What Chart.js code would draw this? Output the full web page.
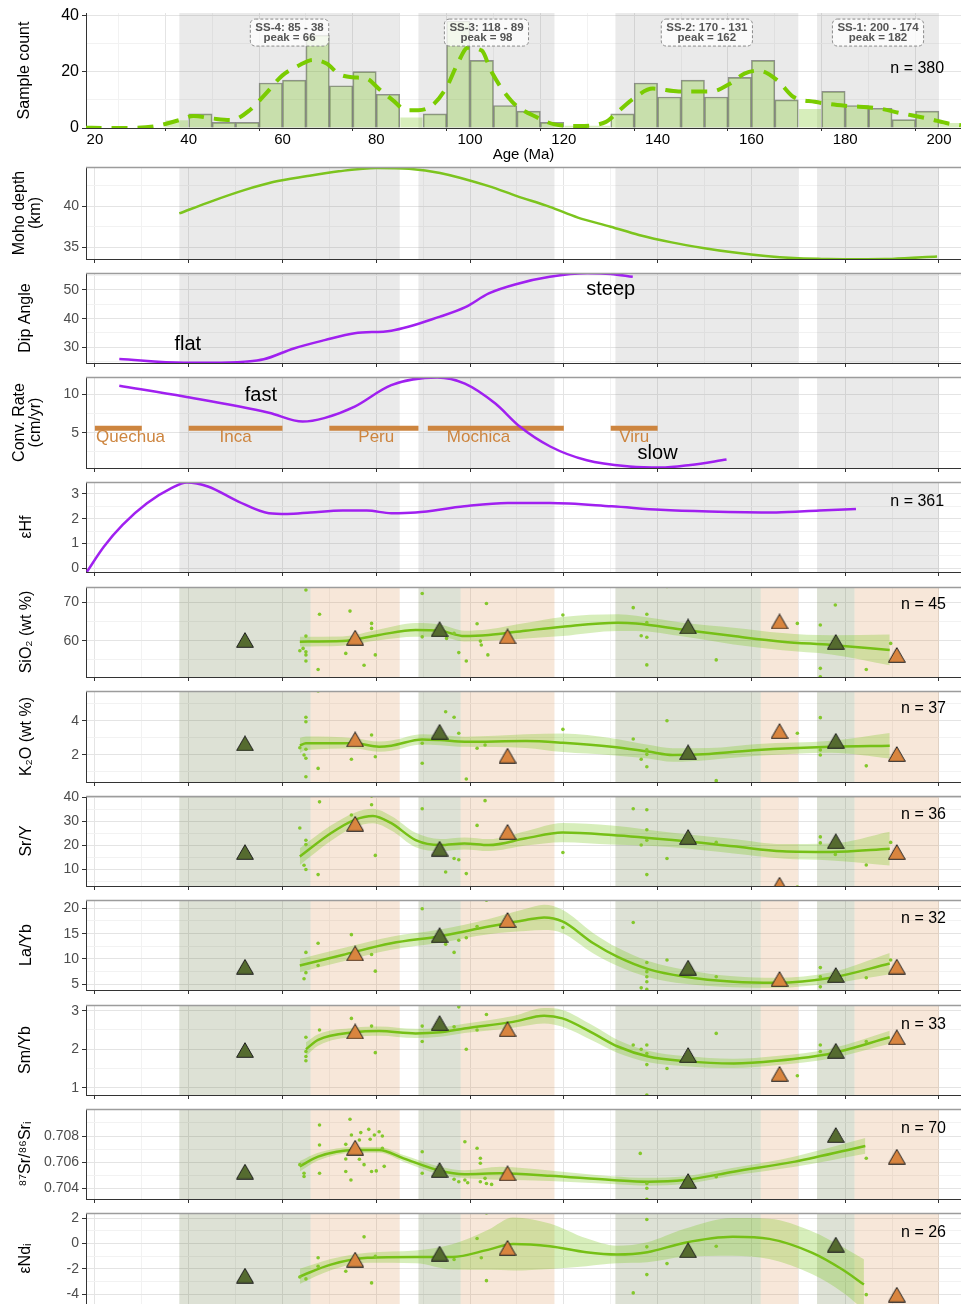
<!DOCTYPE html>
<html>
<head>
<meta charset="utf-8">
<title>Arc magmatism vs age</title>
<script src="https://cdn.jsdelivr.net/npm/chart.js@4.4.0/dist/chart.umd.min.js"></script>
<style>
  html, body { margin: 0; padding: 0; background: #fff; overflow: hidden; }
  #wrap { position: relative; width: 961px; height: 1304px; }
  #wrap canvas { position: absolute; left: 0; }
</style>
</head>
<body>
<div id="wrap"></div>
<script>
// ---------- data (ages in Ma) ----------
const xMajor = [20, 40, 60, 80, 100, 120, 140, 160, 180, 200];
const xMinor = [30, 50, 70, 90, 110, 130, 150, 170, 190];

// zircon age histogram, 5 Ma bins
const binStart = [35,40,45,50,55,60,65,70,75,80,85,90,95,100,105,110,115,120,125,130,135,140,145,150,155,160,165,170,175,180,185,190,195,200];
const binCount = [3,5,2,2,16,17,33,15,20,12,4,5,38,24,8,6,2,1,1,5,16,11,17,11,18,24,10,7,13,8,7,3,6,2];
const densAge = [18,22,27,33,38,41,45,49,53,56.5,60,63.5,66.5,69.5,72,75,78,80.5,83.5,86.5,89,92,95,97.5,99.5,102.5,104.5,109,114.5,118,123,129,131.5,134.5,139,144.5,151.5,155.5,158.5,161.5,165.5,169,173.5,180,187,191.5,198,202,204.7];
const densVal = [0.1,0,0,0.7,2.8,4.3,3.4,2.8,6.3,12.3,18.7,22.2,24.2,22.8,19.2,18,17.5,14,9.9,6.3,6.3,8.1,14.5,23.4,28.5,27.5,20.2,9.3,3.6,1.3,0.7,2.2,5.7,10,14,13,13,15.8,19.3,20.4,17,11,9.3,7.9,7,5.4,3.2,1.6,1];

// magmatic flare-ups (SS-4 ... SS-1) and peaks
const ssBands = [[38, 85], [89, 118], [131, 170], [174, 200]];
const ssText = [['SS-4: 85 - 38', 'peak = 66'], ['SS-3: 118 - 89', 'peak = 98'], ['SS-2: 170 - 131', 'peak = 162'], ['SS-1: 200 - 174', 'peak = 182']];
const preBands = [[38, 66], [89, 98], [131, 162], [174, 182]];   // before peak
const postBands = [[66, 85], [98, 118], [162, 170], [182, 200]]; // after peak
const darkAges = [52, 93.5, 146.5, 178];
const orangeAges = [75.5, 108, 166, 191];

// Moho depth
const mohoAge = [38, 45, 52, 58, 65, 72, 80, 87, 93.6, 104, 110, 117, 123, 130, 136, 143, 150, 156, 163, 169, 175, 182, 190, 199.6];
const mohoVal = [39.1, 40.6, 41.95, 42.9, 43.6, 44.2, 44.6, 44.5, 44.0, 42.4, 41.2, 39.9, 38.6, 37.5, 36.5, 35.6, 34.9, 34.4, 33.95, 33.7, 33.6, 33.55, 33.6, 33.9];

// slab dip angle
const dipAge = [25.2, 39, 45, 52, 56, 62.4, 69, 75.4, 83.2, 93.6, 99, 104, 110, 117, 125, 130, 134.7];
const dipVal = [25.9, 24.6, 24.6, 25.0, 25.8, 29.6, 32.5, 34.9, 35.8, 40.7, 44.0, 48.8, 52.1, 54.6, 55.8, 55.6, 54.6];

// convergence rate
const convAge = [25.2, 39, 57.1, 64.3, 68.9, 75.4, 83.2, 93, 98.9, 105.4, 110.6, 117.1, 124.9, 134, 140.6, 147, 154.7];
const convVal = [11.1, 9.7, 7.6, 6.45, 6.9, 8.4, 11.2, 12.2, 11.4, 8.8, 5.8, 3.2, 1.4, 0.6, 0.45, 0.8, 1.5];
const phaseName = ['Quechua', 'Inca', 'Peru', 'Mochica', 'Viru'];
const phaseStart = [20, 40, 70, 91, 130];
const phaseEnd = [30, 60, 89, 120, 140];
const phaseLabelAge = [27.6, 50, 80, 101.8, 135];
const phaseLevel = 5.57;

// zircon eHf
const hfAge = [18.3, 21.9, 25.9, 31.1, 36.3, 39.6, 44.1, 50.6, 57.1, 61, 66, 72.8, 78, 83.2, 88.4, 98.8, 108, 117, 130.2, 140.6, 151, 165.3, 174.5, 182.3];
const hfVal = [-0.14, 0.87, 1.75, 2.62, 3.23, 3.46, 3.3, 2.69, 2.22, 2.19, 2.25, 2.33, 2.33, 2.22, 2.25, 2.5, 2.63, 2.63, 2.5, 2.36, 2.29, 2.25, 2.33, 2.39];

// SiO2
const siAge = [63.7, 72.8, 80.6, 88.4, 93.6, 98.8, 104, 111.8, 119.7, 131.5, 135.4, 145.8, 156.2, 166.6, 177, 189.5];
const siFit = [59.75, 59.9, 61.5, 62.8, 62.6, 61.2, 61.5, 62.6, 63.65, 64.7, 64.5, 62.8, 61.2, 59.75, 58.9, 57.6];
const siLo = [58.5, 58.7, 60.1, 61.0, 61.0, 59.8, 60.0, 60.6, 61.2, 62.5, 62.5, 61.0, 59.0, 57.5, 56.4, 53.6];
const siHi = [61.0, 61.1, 62.9, 64.6, 64.2, 62.6, 63.0, 64.6, 66.2, 66.9, 66.5, 64.6, 63.4, 62.0, 61.4, 61.6];
const siPts = [[65,73.2],[65,61.2],[64.4,58.0],[63.7,57.4],[65,57.1],[65,56.3],[65,54.7],[67.6,52.5],[67.9,66.9],[73.5,56.7],[74.4,67.7],[77.4,53.6],[79,64.5],[79,63.2],[79.8,56.3],[89.8,72.3],[89.8,61.0],[95,60.6],[96.6,61.9],[97.6,56.9],[99.2,54.7],[101.5,64.4],[102.2,59.9],[102.4,58.9],[103.5,69.7],[103.8,56.3],[119.8,66.7],[134.8,68.6],[136.5,61.3],[137.7,66.9],[137.7,64.7],[137.7,60.9],[137.7,53.7],[142,74.1],[152.5,55],[169.8,64.5],[174.7,64.1],[174.7,52.8],[174.7,50.6],[177.9,69.3],[184.5,52.5],[189.7,59.3]];
const siDark = [60.2, 63.0, 63.7, 59.7];
const siOrange = [60.8, 61.1, 65.0, 56.3];

// K2O
const kAge = [63.7, 65, 75.4, 80.6, 83.2, 89.8, 93.6, 98.9, 111.9, 119.8, 130.2, 138, 143.2, 151, 161.4, 177, 189.5];
const kFit = [2.53, 2.67, 2.67, 2.47, 2.53, 2.9, 2.86, 2.76, 2.8, 2.7, 2.47, 2.18, 1.98, 2.04, 2.28, 2.47, 2.53];
const kLo = [2.08, 2.27, 2.37, 2.17, 2.23, 2.6, 2.56, 2.46, 2.4, 2.15, 1.97, 1.78, 1.58, 1.69, 1.93, 2.12, 1.78];
const kHi = [2.98, 3.07, 2.97, 2.77, 2.83, 3.2, 3.16, 3.06, 3.2, 3.25, 2.97, 2.58, 2.38, 2.39, 2.63, 2.82, 3.28];
const kPts = [[67.6,5.76],[65,4.2],[65,3.94],[63.7,2.41],[65,2.32],[64.6,1.98],[65,1.79],[65,0.7],[67.6,1.19],[74.7,1.73],[79,3.16],[79.8,1.88],[89.8,1.49],[89.8,2.67],[94.8,4.53],[96.6,4.2],[97.6,3.26],[99.2,0.57],[101.5,2.38],[103.2,2.57],[119.8,3.49],[134.8,2.92],[136.5,1.73],[137.7,2.28],[137.7,2.02],[137.7,1.29],[142,4.0],[152.5,0.47],[169.8,3.26],[174.7,4.18],[174.7,2.28],[174.7,1.98],[184.5,1.34]];
const kDark = [2.67, 3.35, 2.14, 2.82];
const kOrange = [2.9, 1.94, 3.39, 2.04];

// Sr/Y
const srYAge = [63.7, 70.3, 75.4, 79.3, 83.2, 88.4, 93.6, 98.8, 104, 111.9, 119.7, 130.2, 143.2, 156.2, 166.6, 177, 189.5];
const srYFit = [15.3, 25, 30.6, 32.2, 29.2, 22.2, 20.1, 20.8, 20.1, 22.9, 25.3, 24.3, 22.2, 19.6, 17.5, 17.2, 18.6];
const srYLo = [11.8, 21.8, 27.6, 29.2, 26.2, 19.2, 17.6, 18.3, 17.6, 19.9, 21.3, 20.3, 19.2, 16.6, 14.5, 13.7, 11.6];
const srYHi = [18.8, 28.2, 33.6, 35.2, 32.2, 25.2, 22.6, 23.3, 22.6, 25.9, 29.3, 28.3, 25.2, 22.6, 20.5, 20.7, 25.6];
const srYPts = [[63.7,27.2],[65,22.1],[65,20.3],[64.6,11.7],[65,9.9],[67.6,7.8],[67.9,38.1],[74.7,32.6],[79,40.5],[79,36.9],[79.8,15.8],[89.8,35.2],[94.8,8.9],[96.6,14.5],[97.6,14.0],[99.2,8.2],[101.5,28.3],[103.2,38.6],[119.8,17.0],[134.8,35.2],[136.5,20.1],[137.7,34.8],[137.7,26.5],[137.7,22.1],[137.7,7.8],[142,14.5],[152.5,21.2],[169.8,2.6],[174.7,23.5],[174.7,21],[177.9,16.2],[184.5,11.8],[189.7,21.2]];
const srYDark = [17.2, 18.6, 23.5, 21.7];
const srYOrange = [29.0, 25.6, 3.6, 17.2];

// La/Yb
const laAge = [63.7, 72.8, 83.2, 93.6, 104, 111.9, 115.8, 119.7, 126.3, 131.5, 138, 145.8, 156.2, 165.3, 177, 189.5];
const laFit = [8.7, 10.8, 13.1, 14.5, 16.4, 17.7, 18.2, 17.4, 13.1, 10.4, 8.0, 6.5, 5.5, 5.3, 6.3, 9.1];
const laLo = [7.4, 9.5, 11.8, 13.2, 14.9, 15.5, 15.7, 15.1, 11.1, 8.6, 6.4, 5.1, 4.4, 4.3, 5.2, 7.0];
const laHi = [10.0, 12.1, 14.4, 15.8, 17.9, 19.9, 20.7, 19.7, 15.1, 12.2, 9.6, 7.9, 6.6, 6.3, 7.4, 11.2];
const laPts = [[65,11.3],[65,7.3],[64.6,6.1],[67.6,13.1],[67.6,8.7],[74.7,14.8],[79,10.9],[79.8,7.6],[89.8,19.9],[94.8,12.9],[96.6,11.3],[97.6,13.7],[99.2,14.2],[101.5,16.4],[103.5,21.6],[119.8,16.2],[134.8,17.2],[136.5,4.3],[137.7,9.3],[137.7,7.5],[137.7,6.5],[137.7,5.5],[137.7,4.0],[142,9.8],[152.5,6.5],[174.7,8.3],[174.7,6.5],[174.7,4.5],[184.5,6.3],[189.7,9.8]];
const laDark = [8.48, 14.7, 8.3, 6.85];
const laOrange = [11.1, 17.7, 6.05, 8.5];

// Sm/Yb
const smAge = [65, 67.6, 75.4, 80.6, 88.4, 93.6, 98.8, 109.2, 115.8, 119.7, 126.3, 131.5, 138, 145.8, 156.2, 165.3, 177, 189.5];
const smFit = [2.0, 2.24, 2.44, 2.47, 2.41, 2.44, 2.54, 2.71, 2.87, 2.8, 2.41, 2.07, 1.81, 1.69, 1.63, 1.7, 1.89, 2.31];
const smLo = [1.82, 2.09, 2.32, 2.35, 2.29, 2.32, 2.42, 2.56, 2.67, 2.58, 2.21, 1.90, 1.66, 1.56, 1.51, 1.58, 1.76, 2.14];
const smHi = [2.18, 2.39, 2.56, 2.59, 2.53, 2.56, 2.66, 2.86, 3.07, 3.02, 2.61, 2.24, 1.96, 1.82, 1.75, 1.82, 2.02, 2.48];
const smPts = [[65,2.31],[65,1.94],[65,1.81],[65,1.7],[67.9,2.5],[74.7,2.8],[79,2.6],[79.8,1.91],[89.8,2.6],[89.8,2.2],[96.6,2.58],[97.6,3.1],[99.2,2.0],[101.5,2.5],[103.5,2.9],[134.8,2.11],[136.5,2.0],[137.7,2.11],[137.7,1.89],[137.7,1.6],[137.7,0.81],[142,1.5],[152.5,2.41],[169.8,1.31],[174.7,2.11],[174.7,1.94],[184.5,2.2]];
const smDark = [1.98, 2.68, 1.85, 1.96];
const smOrange = [2.46, 2.52, 1.36, 2.31];

// 87Sr/86Sr initial
const srAge = [63.7, 67.6, 75.4, 80.6, 85.8, 93.6, 98.8, 106.5, 117, 130.2, 138, 145.8, 156.2, 169.3, 184.3];
const srFit = [0.70568, 0.70642, 0.70693, 0.70693, 0.70629, 0.70534, 0.70508, 0.70515, 0.70496, 0.70463, 0.7045, 0.70463, 0.70527, 0.70604, 0.70724];
const srLo = [0.70528, 0.70612, 0.70671, 0.70671, 0.70604, 0.70504, 0.70478, 0.70465, 0.70456, 0.70433, 0.7042, 0.70433, 0.70497, 0.70564, 0.70664];
const srHi = [0.70608, 0.70672, 0.70715, 0.70715, 0.70654, 0.70564, 0.70538, 0.70565, 0.70536, 0.70493, 0.7048, 0.70493, 0.70557, 0.70644, 0.70784];
const srPts = [[63.7,0.70581],[64.6,0.70515],[64.6,0.7049],[67.9,0.71012],[67.9,0.70884],[67.9,0.70731],[67.9,0.70515],[73.5,0.70736],[73.5,0.70624],[73.5,0.70528],[74.4,0.70928],[74.6,0.70463],[74.7,0.70808],[76.4,0.70769],[76.4,0.70622],[76.7,0.70826],[77.4,0.70581],[78.4,0.70851],[78.7,0.70775],[79,0.70528],[79.6,0.70808],[80,0.70533],[80.6,0.70833],[81.3,0.708],[81.3,0.70706],[81.7,0.70568],[89.8,0.7068],[89.8,0.70515],[96.6,0.70469],[97.6,0.7045],[98.9,0.70756],[98.9,0.70463],[99.5,0.70443],[101.5,0.70706],[102.2,0.7063],[102.2,0.70592],[102.2,0.7045],[103.2,0.70476],[103.5,0.70437],[104.6,0.7043],[136.3,0.70667],[137.7,0.70437],[137.7,0.704],[137.7,0.70316],[152.5,0.70489],[184.5,0.7063]];
const srDark = [0.70528, 0.7054, 0.70456, 0.70808];
const srOrange = [0.70711, 0.70515, null, 0.70642];

// eNd initial
const ndAge = [63.7, 70.3, 78.1, 88.4, 96.2, 104, 109.2, 117, 124.8, 131.3, 137.8, 145.6, 156, 163.8, 173, 179.4, 184];
const ndFit = [-2.6, -1.67, -1.13, -1.06, -1.06, -0.48, -0.03, -0.21, -0.69, -0.87, -0.69, 0.05, 0.53, 0.37, -0.74, -2.06, -3.25];
const ndLo = [-3.2, -2.12, -1.53, -1.56, -2.06, -2.08, -2.13, -2.01, -1.79, -1.57, -1.49, -1.05, -0.97, -1.23, -2.44, -3.86, -5.25];
const ndHi = [-2.0, -1.22, -0.73, -0.56, -0.06, 1.12, 2.07, 1.59, 0.41, -0.17, 0.11, 1.15, 2.03, 1.97, 0.96, -0.26, -1.25];
const ndPts = [[63.7,-2.65],[65,-2.8],[67.6,-1.13],[67.6,-1.8],[73.5,-2.2],[77.4,0.53],[79,-3.12],[79.8,-1.01],[96.6,-1.27],[101.5,0.4],[102.4,-1.13],[103.5,2.43],[103.5,-2.94],[134.8,-3.91],[137.7,1.9],[137.7,-0.26],[137.7,-2.46],[142,-1.59],[152.5,-0.21],[184.5,-4.05]];
const ndDark = [-2.54, -0.79, -0.53, -0.08];
const ndOrange = [-1.27, -0.34, null, -4.05];

// ---------- drawing ----------
const FONT = "'Liberation Sans', Arial, Helvetica, sans-serif";
Chart.defaults.font.family = FONT;
const X_MIN = 18.1, X_MAX = 204.7;
const GREY_BAND = 'rgba(128,128,128,0.17)';
const DARK_BAND = 'rgba(85,107,47,0.2)';
const PEACH_BAND = 'rgba(217,133,65,0.2)';
const wrap = document.getElementById('wrap');

function xy(ages, vals) { return ages.map((a, i) => ({ x: a, y: vals[i] })); }
function near(v, list) { return list.some(w => Math.abs(w - v) < 1e-9); }

function makeCtx(top, height) {
  const c = document.createElement('canvas');
  c.width = 961; c.height = height;
  c.style.top = top + 'px';
  c.style.width = '961px'; c.style.height = height + 'px';
  wrap.appendChild(c);
  return c.getContext('2d');
}

// triangle marker centred on its own box (like the R filled triangle)
function triImage(fill) {
  const w = 18, h = 16, c = document.createElement('canvas');
  c.width = w; c.height = h;
  const g = c.getContext('2d');
  g.beginPath();
  g.moveTo(w / 2, 0.7); g.lineTo(w - 0.6, h - 0.7); g.lineTo(0.6, h - 0.7); g.closePath();
  g.fillStyle = fill; g.fill();
  g.strokeStyle = '#1e1e1e'; g.lineWidth = 1; g.stroke();
  return c;
}
const TRI_DARK = triImage('#556b2f');
const TRI_ORANGE = triImage('#d9853f');

function xScale(withLabels, h) {
  const all = xMajor.concat(xMinor).sort((a, b) => a - b);
  return {
    type: 'linear', min: X_MIN, max: X_MAX, offset: false,
    afterBuildTicks: s => { s.ticks = all.map(v => ({ value: v })); },
    afterFit: s => { s.height = h; s.paddingLeft = 0; s.paddingRight = 0; },
    ticks: { display: withLabels, autoSkip: false, maxRotation: 0, padding: 0, color: '#000', font: { size: 15 },
      callback: v => near(v, xMajor) ? String(v) : '' },
    grid: { tickLength: withLabels ? 3 : 4,
      color: c => c.tick && near(c.tick.value, xMajor) ? '#e4e4e4' : '#f2f2f2',
      tickColor: c => c.tick && near(c.tick.value, xMajor) ? '#333' : 'rgba(0,0,0,0)' },
    border: { color: '#333', width: 1 },
    title: { display: withLabels, text: 'Age (Ma)', color: '#000', font: { size: 15 }, padding: { top: 0, bottom: 1 } }
  };
}

function yScale(o) {
  const all = o.major.concat(o.minor).sort((a, b) => a - b);
  const lh = o.title.length > 1 ? 1 : 1.2;
  return {
    min: o.min, max: o.max,
    afterBuildTicks: s => { s.ticks = all.map(v => ({ value: v })); },
    afterFit: s => { s.width = 86; s.paddingTop = 0; s.paddingBottom = 0; },
    ticks: { autoSkip: false, padding: 3, color: o.tickColor || '#4d4d4d', font: { size: o.tickSize || 14 },
      callback: v => near(v, o.major) ? (o.fmt ? o.fmt(v) : String(v)) : '' },
    grid: { tickLength: 4,
      color: c => c.tick && near(c.tick.value, o.major) ? '#e4e4e4' : '#f2f2f2',
      tickColor: c => c.tick && near(c.tick.value, o.major) ? '#333' : 'rgba(0,0,0,0)' },
    border: { color: '#333', width: 1 },
    title: { display: true, text: o.title, color: '#000', font: { size: 16, lineHeight: lh },
      padding: { top: o.titleX - 8 * lh, bottom: 0 } }
  };
}

function decoPlugin(o) {
  return {
    id: 'deco',
    beforeDatasetsDraw(chart) {
      const { ctx, chartArea: a, scales: { x } } = chart;
      ctx.save();
      o.bands.forEach(b => {
        const x0 = Math.max(x.getPixelForValue(b[0]), a.left);
        const x1 = Math.min(x.getPixelForValue(b[1]), a.right);
        ctx.fillStyle = b[2];
        ctx.fillRect(x0, a.top, x1 - x0, a.bottom - a.top);
      });
      ctx.restore();
    },
    afterDatasetsDraw(chart) {
      const { ctx, scales: { x, y } } = chart;
      if (o.boxes) o.boxes(chart);
      (o.texts || []).forEach(t => {
        ctx.save();
        ctx.font = (t.bold ? 'bold ' : '') + t.size + 'px ' + FONT;
        ctx.fillStyle = t.color || '#000';
        ctx.textAlign = t.align || 'center';
        ctx.textBaseline = 'middle';
        ctx.fillText(t.text, x.getPixelForValue(t.x), y.getPixelForValue(t.y));
        ctx.restore();
      });
    },
    afterDraw(chart) {
      if (!o.topLine) return;
      const { ctx, chartArea: a } = chart;
      ctx.save();
      ctx.strokeStyle = '#9c9c9c';
      ctx.lineWidth = 1.5;
      ctx.beginPath(); ctx.moveTo(a.left, a.top + 0.5); ctx.lineTo(a.right, a.top + 0.5); ctx.stroke();
      ctx.restore();
    }
  };
}

function baseOptions(xs, ys, padTop) {
  return {
    responsive: false, animation: false, devicePixelRatio: 1, events: [],
    layout: { autoPadding: false, padding: { top: padTop, left: 0, right: 0, bottom: 0 } },
    plugins: { legend: { display: false }, tooltip: { enabled: false } },
    scales: { x: xs, y: ys }
  };
}

const PAD = 8;   // canvas space above each panel
const XH = 8;    // x-axis strip below lower panels

function lineDs(ages, vals, color, width) {
  return { data: xy(ages, vals), borderColor: color, borderWidth: width, pointRadius: 0,
    cubicInterpolationMode: 'monotone', fill: false };
}

// --- panel 1: histogram ---
(function () {
  const inBand = m => ssBands.some(b => m > b[0] && m < b[1]);
  const ctx = makeCtx(0, 165);
  const boxes = chart => {
    const { ctx, scales: { x, y } } = chart;
    ssBands.forEach((b, i) => {
      const cx = x.getPixelForValue((b[0] + b[1]) / 2), cy = y.getPixelForValue(33.9);
      ctx.save();
      ctx.font = 'bold 11.5px ' + FONT;
      const w = Math.max(...ssText[i].map(s => ctx.measureText(s).width)) + 10, h = 27;
      ctx.beginPath();
      ctx.roundRect(cx - w / 2, cy - h / 2, w, h, 5);
      ctx.fillStyle = 'rgba(255,255,255,0.78)';
      ctx.fill();
      ctx.setLineDash([3, 2]);
      ctx.strokeStyle = '#8a8a8a'; ctx.lineWidth = 1; ctx.stroke();
      ctx.setLineDash([]);
      ctx.fillStyle = '#555'; ctx.textAlign = 'center'; ctx.textBaseline = 'middle';
      ctx.fillText(ssText[i][0], cx, cy - 5);
      ctx.fillText(ssText[i][1], cx, cy + 5.5);
      ctx.restore();
    });
  };
  new Chart(ctx, {
    type: 'bar',
    data: { datasets: [
      { type: 'line', data: xy(densAge, densVal), borderColor: '#7acc00', borderWidth: 4, borderDash: [16, 10],
        pointRadius: 0, cubicInterpolationMode: 'monotone', order: 0 },
      { type: 'bar', data: binStart.map((b, i) => ({ x: b + 2.5, y: binCount[i] })),
        backgroundColor: 'rgba(124,200,30,0.3)',
        borderColor: binStart.map(b => inBand(b + 2.5) ? 'rgba(95,95,95,0.65)' : 'rgba(0,0,0,0)'),
        borderWidth: 1, barPercentage: 1, categoryPercentage: 1, order: 1 }
    ] },
    options: baseOptions(xScale(true, 37),
      yScale({ min: 0, max: 40.85, major: [0, 20, 40], minor: [10, 30], title: ['Sample count'], titleX: 25, tickColor: '#000', tickSize: 16 }), 13),
    plugins: [decoPlugin({ bands: ssBands.map(b => [b[0], b[1], GREY_BAND]), boxes,
      texts: [{ x: 201.1, y: 21.2, text: 'n = 380', size: 16, align: 'right' }] })]
  });
})();

// --- simple line panels ---
function linePanel(top, bottom, yo, datasets, texts) {
  const ctx = makeCtx(top - PAD, bottom - top + PAD + XH);
  new Chart(ctx, {
    type: 'line',
    data: { datasets },
    options: baseOptions(xScale(false, XH), yScale(yo), PAD),
    plugins: [decoPlugin({ bands: ssBands.map(b => [b[0], b[1], GREY_BAND]), texts, topLine: true })]
  });
}

const GREEN = '#7cc41e', PURPLE = '#a020f0', PERU = '#cd853f';

linePanel(167, 259, { min: 33.59, max: 44.72, major: [35, 40], minor: [37.5, 42.5], title: ['Moho depth', '(km)'], titleX: 20 },
  [lineDs(mohoAge, mohoVal, GREEN, 2.5)], []);

linePanel(273, 363, { min: 24.52, max: 55.93, major: [30, 40, 50], minor: [25, 35, 45, 55], title: ['Dip Angle'], titleX: 26 },
  [lineDs(dipAge, dipVal, PURPLE, 2.5)],
  [{ x: 39.8, y: 31.15, text: 'flat', size: 20 }, { x: 130, y: 50.2, text: 'steep', size: 20 }]);

linePanel(377, 468, { min: 0.4, max: 12.25, major: [5, 10], minor: [2.5, 7.5], title: ['Conv. Rate', '(cm/yr)'], titleX: 20 },
  [lineDs(convAge, convVal, PURPLE, 2.5)].concat(phaseName.map((n, i) => ({
    data: [{ x: phaseStart[i], y: phaseLevel }, { x: phaseEnd[i], y: phaseLevel }],
    borderColor: PERU, borderWidth: 5, pointRadius: 0, borderCapStyle: 'butt', fill: false }))),
  phaseName.map((n, i) => ({ x: phaseLabelAge[i], y: 4.35, text: n, size: 17, color: PERU }))
    .concat([{ x: 55.4, y: 9.84, text: 'fast', size: 20 }, { x: 140, y: 2.29, text: 'slow', size: 20 }]));

linePanel(482, 572, { min: -0.15, max: 3.48, major: [0, 1, 2, 3], minor: [0.5, 1.5, 2.5], title: ['εHf'], titleX: 27 },
  [lineDs(hfAge, hfVal, PURPLE, 2.5)],
  [{ x: 201.1, y: 2.70, text: 'n = 361', size: 16, align: 'right' }]);

// --- geochemistry panels ---
function geoPanel(top, bottom, yo, g) {
  const ctx = makeCtx(top - PAD, bottom - top + PAD + XH);
  const tri = (vals, ages, img) => ({
    data: vals.map((v, i) => v == null ? null : { x: ages[i], y: v }).filter(p => p),
    showLine: false, pointStyle: img, pointRadius: 9, order: 0 });
  const datasets = [
    tri(g.dark, darkAges, TRI_DARK),
    tri(g.orange, orangeAges, TRI_ORANGE),
    { data: g.pts.map(p => ({ x: p[0], y: p[1] })), showLine: false, pointRadius: 1.8,
      pointBackgroundColor: '#84c82c', pointBorderColor: 'rgba(0,0,0,0)', pointBorderWidth: 0, order: 1 },
    { data: xy(g.age, g.fit), borderColor: '#76c016', borderWidth: 2.5, pointRadius: 0,
      cubicInterpolationMode: 'monotone', fill: false, order: 2 },
    { data: xy(g.age, g.hi), borderColor: 'rgba(0,0,0,0)', borderWidth: 0, pointRadius: 0,
      cubicInterpolationMode: 'monotone', fill: '+1', backgroundColor: 'rgba(124,200,30,0.3)', order: 3 },
    { data: xy(g.age, g.lo), borderColor: 'rgba(0,0,0,0)', borderWidth: 0, pointRadius: 0,
      cubicInterpolationMode: 'monotone', fill: false, order: 3 }
  ];
  const bands = preBands.map(b => [b[0], b[1], DARK_BAND]).concat(postBands.map(b => [b[0], b[1], PEACH_BAND]));
  new Chart(ctx, {
    type: 'line',
    data: { datasets },
    options: baseOptions(xScale(false, XH), yScale(yo), PAD),
    plugins: [decoPlugin({ bands, topLine: true,
      texts: [{ x: 201.5, y: g.nY, text: g.n, size: 16, align: 'right' }] })]
  });
}

geoPanel(587, 677, { min: 50.55, max: 73.98, major: [60, 70], minor: [55, 65], title: ['SiO₂ (wt %)'], titleX: 27 },
  { age: siAge, fit: siFit, lo: siLo, hi: siHi, pts: siPts, dark: siDark, orange: siOrange, n: 'n = 45', nY: 69.3 });

geoPanel(691, 782, { min: 0.39, max: 5.75, major: [2, 4], minor: [1, 3, 5], title: ['K₂O (wt %)'], titleX: 27 },
  { age: kAge, fit: kFit, lo: kLo, hi: kHi, pts: kPts, dark: kDark, orange: kOrange, n: 'n = 37', nY: 4.73 });

geoPanel(796, 886, { min: 3.04, max: 40.54, major: [10, 20, 30, 40], minor: [5, 15, 25, 35], title: ['Sr/Y'], titleX: 27 },
  { age: srYAge, fit: srYFit, lo: srYLo, hi: srYHi, pts: srYPts, dark: srYDark, orange: srYOrange, n: 'n = 36', nY: 32.6 });

geoPanel(900, 990, { min: 3.88, max: 21.64, major: [5, 10, 15, 20], minor: [7.5, 12.5, 17.5], title: ['La/Yb'], titleX: 27 },
  { age: laAge, fit: laFit, lo: laLo, hi: laHi, pts: laPts, dark: laDark, orange: laOrange, n: 'n = 32', nY: 18.0 });

geoPanel(1005, 1095, { min: 0.81, max: 3.148, major: [1, 2, 3], minor: [1.5, 2.5], title: ['Sm/Yb'], titleX: 26 },
  { age: smAge, fit: smFit, lo: smLo, hi: smHi, pts: smPts, dark: smDark, orange: smOrange, n: 'n = 33', nY: 2.65 });

geoPanel(1109, 1199, { min: 0.703182, max: 0.710065, major: [0.704, 0.706, 0.708], minor: [0.705, 0.707, 0.709],
  title: ['⁸⁷Sr/⁸⁶Srᵢ'], titleX: 26, fmt: v => v.toFixed(3) },
  { age: srAge, fit: srFit, lo: srLo, hi: srHi, pts: srPts, dark: srDark, orange: srOrange, n: 'n = 70', nY: 0.70859 });

geoPanel(1213, 1304, { min: -4.79, max: 2.42, major: [-4, -2, 0, 2], minor: [-3, -1, 1], title: ['εNdᵢ'], titleX: 26 },
  { age: ndAge, fit: ndFit, lo: ndLo, hi: ndHi, pts: ndPts, dark: ndDark, orange: ndOrange, n: 'n = 26', nY: 0.85 });
</script>
</body>
</html>
